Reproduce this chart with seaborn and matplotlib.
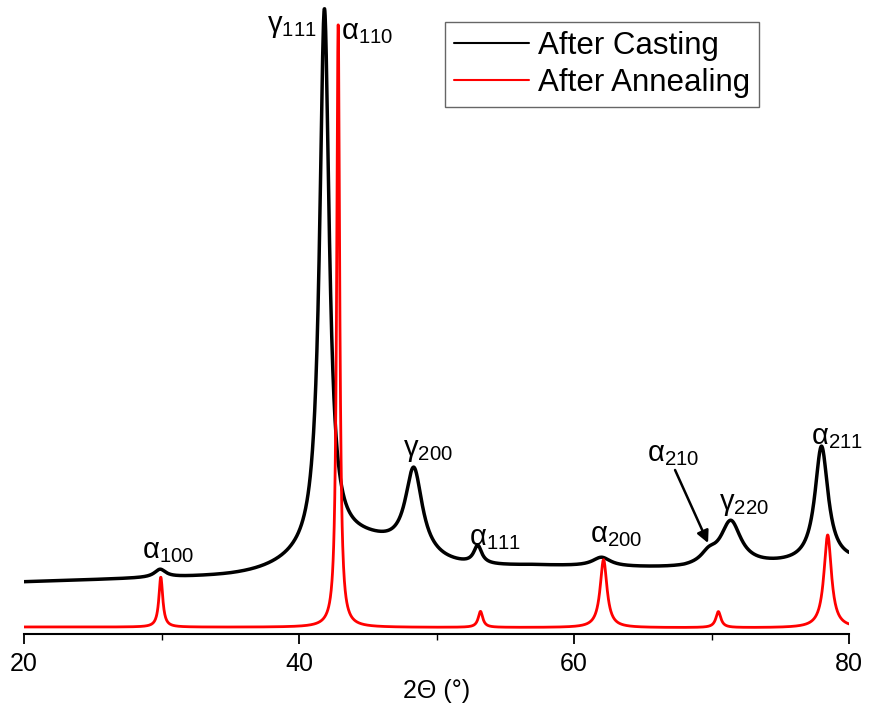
import numpy as np
import pandas as pd
import matplotlib
matplotlib.use("Agg")
import matplotlib.pyplot as plt
import seaborn as sns

# Scan range (degrees 2-theta)
two_theta_start = 20.0
two_theta_stop = 80.0
two_theta_step = 0.02

# After casting: background level (counts) at a few scan positions
cast_background_pos = [20.0, 35.0, 50.0, 57.0, 68.0, 80.0]
cast_background_level = [52.0, 58.0, 66.0, 68.0, 65.0, 72.0]
# Broad diffuse hump underneath the austenite reflections
cast_hump_center = 44.0
cast_hump_height = 30.0
cast_hump_sigma = 3.4
# Reflections after casting: position, height above background, half width
cast_peak_pos = [29.9, 41.85, 48.35, 53.0, 62.0, 69.8, 71.4, 78.0]
cast_peak_height = [8.0, 538.0, 86.0, 18.0, 9.0, 10.0, 44.0, 116.0]
cast_peak_hwhm = [0.5, 0.42, 0.75, 0.35, 0.8, 0.7, 0.9, 0.58]

# After annealing
anneal_background_pos = [20.0, 80.0]
anneal_background_level = [7.0, 6.0]
anneal_peak_pos = [29.95, 42.85, 53.2, 62.15, 70.5, 78.45]
anneal_peak_height = [50.0, 606.0, 16.0, 68.0, 16.0, 93.0]
anneal_peak_hwhm = [0.17, 0.13, 0.2, 0.3, 0.22, 0.33]

series_names = ["After Casting", "After Annealing"]
series_colors = ["#000000", "#ff0000"]
series_widths = [2.5, 2.0]

# Reflection labels: text, x, y (data units)
peak_labels = [
    (r"$\mathregular{\gamma_{111}}$", 39.5, 608),
    (r"$\mathregular{\alpha_{110}}$", 44.95, 602),
    (r"$\mathregular{\alpha_{100}}$", 30.47, 83),
    (r"$\mathregular{\gamma_{200}}$", 49.38, 184),
    (r"$\mathregular{\alpha_{111}}$", 54.25, 96),
    (r"$\mathregular{\alpha_{200}}$", 63.05, 99),
    (r"$\mathregular{\alpha_{210}}$", 67.2, 180),
    (r"$\mathregular{\gamma_{220}}$", 72.4, 130),
    (r"$\mathregular{\alpha_{211}}$", 79.1, 197),
]
arrow_tail = (67.35, 164)
arrow_head = (69.75, 91)

x_ticks = [20, 40, 60, 80]
x_minor_ticks = [30, 50, 70]


def lorentz(x, pos, height, hwhm):
    return height / (1.0 + ((x - pos) / hwhm) ** 2)


def pattern(x, background, peaks, hump=None):
    y = np.interp(x, *background)
    for pos, h, w in zip(*peaks):
        y = y + lorentz(x, pos, h, w)
    if hump is not None:
        c, h, s = hump
        y = y + h * np.exp(-0.5 * ((x - c) / s) ** 2)
    return y


two_theta = np.arange(two_theta_start, two_theta_stop + two_theta_step / 2, two_theta_step)
cast = pattern(two_theta, (cast_background_pos, cast_background_level),
               (cast_peak_pos, cast_peak_height, cast_peak_hwhm),
               (cast_hump_center, cast_hump_height, cast_hump_sigma))
anneal = pattern(two_theta, (anneal_background_pos, anneal_background_level),
                 (anneal_peak_pos, anneal_peak_height, anneal_peak_hwhm))

df = pd.concat([
    pd.DataFrame({"2theta": two_theta, "intensity": cast, "sample": series_names[0]}),
    pd.DataFrame({"2theta": two_theta, "intensity": anneal, "sample": series_names[1]}),
])

sns.set_theme(style="white")
plt.rcParams["font.family"] = ["Liberation Sans", "DejaVu Sans"]
plt.rcParams["mathtext.fontset"] = "custom"
plt.rcParams["mathtext.rm"] = "Liberation Sans"
plt.rcParams["text.color"] = "black"
plt.rcParams["axes.labelcolor"] = "black"
plt.rcParams["xtick.color"] = "black"

fig = plt.figure(figsize=(8.69, 7.09), dpi=100)
ax = fig.add_axes([24 / 869, 75 / 709, 825 / 869, 634 / 709])

sns.lineplot(data=df, x="2theta", y="intensity", hue="sample",
             palette=dict(zip(series_names, series_colors)),
             estimator=None, sort=False, linewidth=2.2, ax=ax, legend=False)
for line, lw in zip(ax.get_lines(), series_widths):
    line.set_linewidth(lw)

ax.set_xlim(two_theta_start, two_theta_stop)
ax.set_ylim(0, 634)
ax.set_yticks([])
ax.set_ylabel("")
for side in ["left", "right", "top"]:
    ax.spines[side].set_visible(False)
ax.spines["bottom"].set_color("black")
ax.spines["bottom"].set_linewidth(1.5)
ax.set_xticks(x_ticks)
ax.set_xticks(x_minor_ticks, minor=True)
ax.tick_params(axis="x", which="major", direction="out", length=7, width=1.3,
               color="black", labelcolor="black", labelsize=18, bottom=True, pad=6)
ax.tick_params(axis="x", which="minor", direction="out", length=4, width=1.0,
               color="black", bottom=True)
ax.set_xlabel("2\u0398 (\u00b0)", fontsize=18, labelpad=2, color="black")

for text, x, y in peak_labels:
    ax.text(x, y, text, fontsize=21, ha="center", va="center", color="black")

ax.annotate("", xy=arrow_head, xytext=arrow_tail,
            arrowprops=dict(arrowstyle="-|>", color="black", lw=1.8,
                            mutation_scale=18, shrinkA=0, shrinkB=0))

handles = [plt.Line2D([], [], color=c, lw=1.5) for c in series_colors]
leg = ax.legend(handles, series_names, loc="upper left",
                bbox_to_anchor=(445 / 869, 1 - 22 / 709),
                bbox_transform=fig.transFigure, borderaxespad=0,
                fontsize=22.5, frameon=True, fancybox=False,
                handlelength=2.4, handletextpad=0.26, labelspacing=0.2,
                borderpad=0.3)
for t in leg.get_texts():
    t.set_color("black")
leg.get_frame().set_edgecolor("#404040")
leg.get_frame().set_linewidth(1.0)

fig.savefig("out.png", dpi=100)
